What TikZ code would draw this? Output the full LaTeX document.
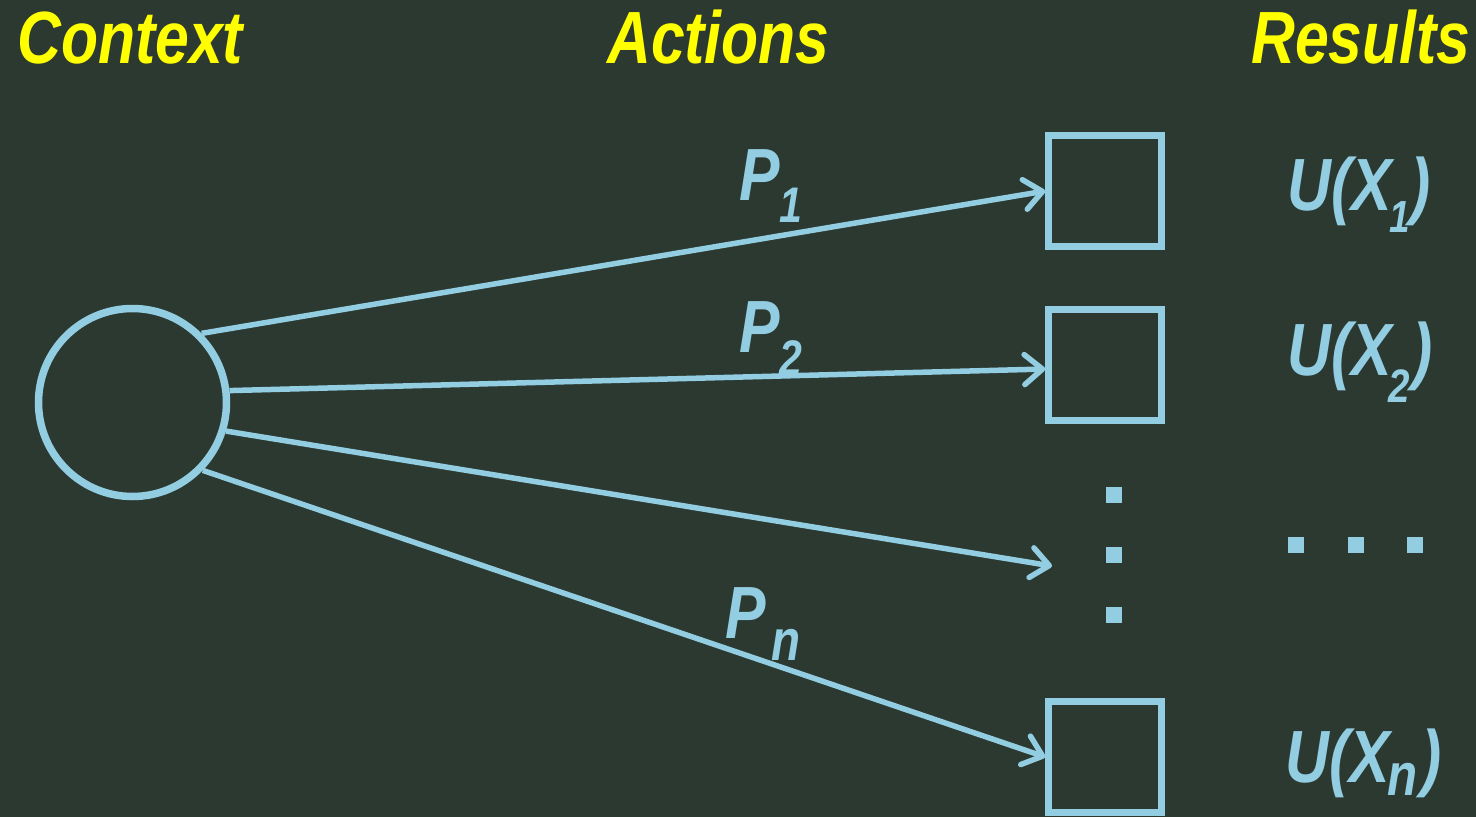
\documentclass[tikz,border=0pt]{standalone}
\usepackage{fontspec}
\newfontfamily\lab{Liberation Sans}[FakeStretch=0.82]
\usetikzlibrary{arrows.meta}
\definecolor{bg}{RGB}{43,57,49}
\definecolor{sky}{RGB}{146,205,226}
\definecolor{ylw}{RGB}{255,255,0}
\newcommand\subt[3]{\raisebox{-#2pt}{\fontsize{#1}{#1}\selectfont #3}}
\begin{document}
\begin{tikzpicture}[x=1pt,y=-1pt,
  head/.style={anchor=base west, inner sep=0pt, text=ylw, font=\lab\bfseries\itshape\fontsize{74}{74}\selectfont},
  lbl/.style={anchor=base west, inner sep=0pt, text=sky, font=\lab\bfseries\itshape\fontsize{74}{74}\selectfont},
  box/.style={draw=sky, line width=6.5pt, minimum width=113pt, minimum height=111pt, inner sep=0pt},
  dotsq/.style={fill=sky, minimum size=16pt, inner sep=0pt},
  arr/.style={draw=sky, line width=5.5pt, -{Straight Barb[length=18pt,width=30pt,round]}}]
\fill[bg] (0,0) rectangle (1476,817);
\useasboundingbox (0,0) rectangle (1476,817);
% headers
\node[head] (ctx) at (17,63) {Context};
\node[head] (act) at (607,63) {Actions};
\node[head] (res) at (1251,63) {Results};
% context circle
\node[circle, draw=sky, line width=7.5pt, minimum size=188pt, inner sep=0pt] (c) at (132.5,402.5) {};
% result boxes
\node[box] (b1) at (1105,191) {};
\node[box] (b2) at (1105,365) {};
\node[box] (bn) at (1105,757) {};
\coordinate (e3) at (1052,566);
% arrows
\draw[arr] (c.45) -- (b1.west);
\draw[arr] (c.7) -- ([yshift=-4pt]b2.west);
\draw[arr] (c.-17) -- (e3);
\draw[arr] (c.-44) -- (bn.west);
% action labels
\node[lbl] (p1) at (739,200) {P\subt{50}{22}{1}};
\node[lbl] (p2) at (739,352) {P\subt{50}{23}{2}};
\node[lbl] (pn) at (725,638) {P\kern6pt\subt{58}{22}{n}};
% result labels
\node[lbl] (u1) at (1287,210) {U(X\kern-2pt\subt{45}{22}{1}\kern0pt)};
\node[lbl] (u2) at (1287,375) {U(X\kern-3pt\subt{47}{27}{2}\kern2pt)};
\node[lbl] (un) at (1285,782) {U(X\kern-2pt\subt{60}{13}{n}\kern4pt)};
% vertical dots
\node[dotsq] (v1) at (1114,495) {};
\node[dotsq] (v2) at (1114,555) {};
\node[dotsq] (v3) at (1114,615) {};
% horizontal dots
\node[dotsq] (h1) at (1296,545) {};
\node[dotsq] (h2) at (1356,545) {};
\node[dotsq] (h3) at (1415,545) {};
\end{tikzpicture}
\end{document}
